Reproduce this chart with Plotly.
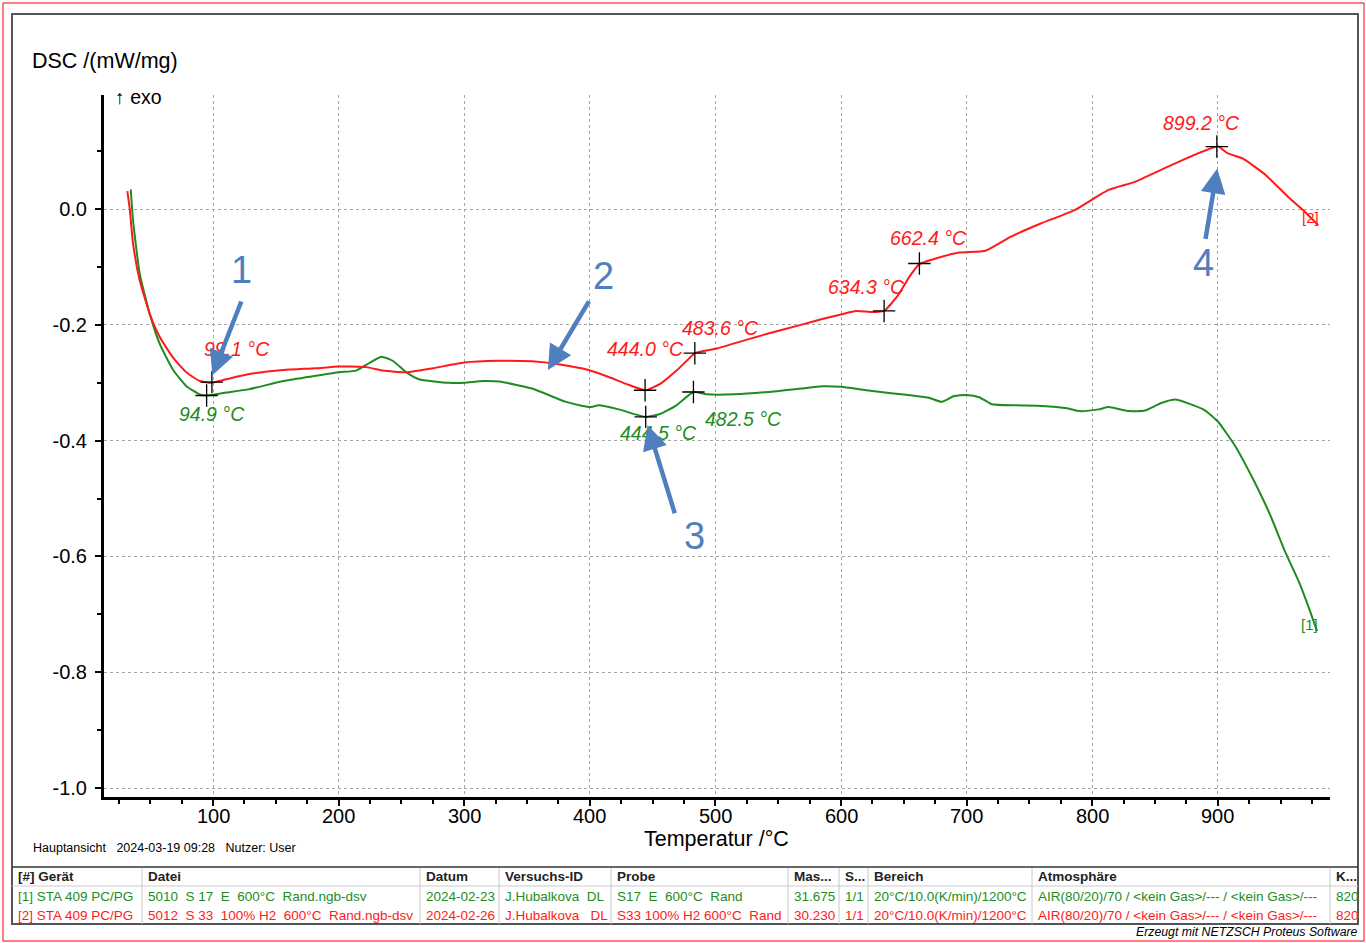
import plotly.graph_objects as go

# ---------------- data ----------------
T_red = [31.8, 33.7, 36.3, 41.6, 49.6, 57.6, 68, 78.8, 89.4, 99.1, 110.6, 129, 156, 182, 200,
         222, 235, 254, 275, 300, 327, 354, 375, 399, 415, 429, 444, 456, 469, 480, 483.6,
         501, 515, 542, 568, 585, 600, 612, 625, 634.3, 645, 655, 662.4, 676, 694, 715,
         735, 759, 786, 813, 834, 863, 900, 908, 920, 938, 956, 968, 980]
dsc_red = [0.031, 0.000, -0.059, -0.123, -0.181, -0.221, -0.256, -0.282, -0.297, -0.300,
           -0.294, -0.285, -0.278, -0.275, -0.272, -0.273, -0.279, -0.282, -0.275, -0.265,
           -0.262, -0.263, -0.268, -0.278, -0.290, -0.302, -0.313, -0.302, -0.279, -0.256,
           -0.249, -0.241, -0.232, -0.215, -0.200, -0.190, -0.182, -0.176, -0.178, -0.176,
           -0.150, -0.115, -0.095, -0.085, -0.075, -0.072, -0.048, -0.025, -0.002, 0.033,
           0.047, 0.076, 0.108, 0.096, 0.087, 0.059, 0.021, -0.002, -0.028]

T_green = [34.5, 36.3, 41.6, 49.6, 57.6, 68, 78.8, 89.4, 94.9, 110.6, 129, 156, 182, 200,
           214, 222, 234, 243, 254, 264, 288, 300, 315, 328, 354, 381, 400, 407, 423, 444.5,
           456, 469, 482.5, 493, 515, 542, 568, 585, 600, 620, 640, 660, 670, 680, 690, 700,
           710, 720, 740, 760, 780, 790, 805, 813, 829, 842, 855, 866, 877, 890, 900, 914,
           927, 941, 954, 965, 973, 979]
dsc_green = [0.034, -0.019, -0.111, -0.181, -0.233, -0.277, -0.306, -0.320, -0.322, -0.317,
             -0.311, -0.297, -0.288, -0.282, -0.279, -0.269, -0.255, -0.262, -0.282, -0.294,
             -0.300, -0.300, -0.297, -0.298, -0.310, -0.333, -0.342, -0.339, -0.346, -0.359,
             -0.354, -0.339, -0.316, -0.320, -0.320, -0.316, -0.310, -0.306, -0.307, -0.313,
             -0.318, -0.323, -0.326, -0.333, -0.323, -0.321, -0.325, -0.337, -0.339, -0.340,
             -0.344, -0.349, -0.346, -0.342, -0.349, -0.348, -0.335, -0.329, -0.336, -0.348,
             -0.367, -0.410, -0.462, -0.525, -0.594, -0.646, -0.692, -0.729]

peak_T_red = [99.1, 444.0, 483.6, 634.3, 662.4, 899.2]
peak_y_red = [-0.299, -0.313, -0.249, -0.176, -0.094, 0.108]
peak_lbl_red = ["99.1 °C", "444.0 °C", "483.6 °C", "634.3 °C", "662.4 °C", "899.2 °C"]
lbl_pos_red = [(119, -0.242), (444, -0.242), (503.7, -0.206), (619.9, -0.135), (670, -0.050), (886.6, 0.149)]

peak_T_green = [94.9, 444.5, 482.5]
peak_y_green = [-0.322, -0.359, -0.316]
peak_lbl_green = ["94.9 °C", "444.5 °C", "482.5 °C"]
lbl_pos_green = [(99.2, -0.354), (454.3, -0.386), (522, -0.363)]

x_ticks = [100, 200, 300, 400, 500, 600, 700, 800, 900]
y_ticks = [0.0, -0.2, -0.4, -0.6, -0.8, -1.0]
y_ticktext = ["0.0", "-0.2", "-0.4", "-0.6", "-0.8", "-1.0"]
y_minor = [0.1, -0.1, -0.3, -0.5, -0.7, -0.9]

# arrows: (number, label pos, tail, head)
arrows = [("1", (122.3, -0.105), (123, -0.157), (99.5, -0.287)),
          ("2", (410.5, -0.116), (400, -0.157), (366.6, -0.278)),
          ("3", (483, -0.565), (468, -0.528), (446, -0.373)),
          ("4", (888.2, -0.093), (890, -0.054), (899.5, 0.070))]

table_cols = ["[#] Gerät", "Datei", "Datum", "Versuchs-ID", "Probe", "Mas...", "S...", "Bereich", "Atmosphäre", "K..."]
row1 = ["[1] STA 409 PC/PG", "5010  S 17  E  600°C  Rand.ngb-dsv", "2024-02-23", "J.Hubalkova  DL",
        "S17  E  600°C  Rand", "31.675", "1/1", "20°C/10.0(K/min)/1200°C",
        "AIR(80/20)/70 / &lt;kein Gas&gt;/--- / &lt;kein Gas&gt;/---", "820"]
row2 = ["[2] STA 409 PC/PG", "5012  S 33  100% H2  600°C  Rand.ngb-dsv", "2024-02-26", "J.Hubalkova   DL",
        "S33 100% H2 600°C  Rand", "30.230", "1/1", "20°C/10.0(K/min)/1200°C",
        "AIR(80/20)/70 / &lt;kein Gas&gt;/--- / &lt;kein Gas&gt;/---", "820"]

# ---------------- layout helpers (pixel -> paper) ----------------
W, H = 1366, 943
L, R, TOP, BOT = 104, 1330, 95, 797
def px(x):
    return (x - L) / (R - L)
def py(y):
    return (BOT - y) / (BOT - TOP)

RED = "#ff1a1a"
GREEN = "#1e8c1e"
BLUE = "#4f7fbf"
FONT = "Liberation Sans, Arial, sans-serif"

fig = go.Figure()
fig.add_trace(go.Scatter(x=T_green, y=dsc_green, mode="lines",
                         line=dict(color=GREEN, width=2, shape="spline", smoothing=0.5)))
fig.add_trace(go.Scatter(x=T_red, y=dsc_red, mode="lines",
                         line=dict(color=RED, width=2, shape="spline", smoothing=0.5)))
fig.add_trace(go.Scatter(x=peak_T_red + peak_T_green, y=peak_y_red + peak_y_green, mode="markers",
                         marker=dict(symbol="cross-thin", size=16, line=dict(color="black", width=1.3))))

ann = []
for (x, y), t in zip(lbl_pos_red, peak_lbl_red):
    ann.append(dict(x=x, y=y, xref="x", yref="y", text=t, showarrow=False,
                    font=dict(family=FONT, size=19.5, color=RED, style="italic")))
for (x, y), t in zip(lbl_pos_green, peak_lbl_green):
    ann.append(dict(x=x, y=y, xref="x", yref="y", text=t, showarrow=False,
                    font=dict(family=FONT, size=19.5, color=GREEN, style="italic")))
ann.append(dict(x=974, y=-0.014, xref="x", yref="y", text="[2]", showarrow=False,
                font=dict(family=FONT, size=15, color=RED)))
ann.append(dict(x=973, y=-0.717, xref="x", yref="y", text="[1]", showarrow=False,
                font=dict(family=FONT, size=15, color=GREEN)))

for num, (lx, ly), (tx, ty), (hx, hy) in arrows:
    ann.append(dict(x=hx, y=hy, ax=tx, ay=ty, xref="x", yref="y", axref="x", ayref="y",
                    text="", showarrow=True, arrowhead=2, arrowsize=1.1, arrowwidth=4.5,
                    arrowcolor=BLUE, standoff=0))
    ann.append(dict(x=lx, y=ly, xref="x", yref="y", text=num, showarrow=False,
                    font=dict(family=FONT, size=38, color=BLUE)))

# x tick labels placed just below the axis (paper y from pixel row)
for v in x_ticks:
    ann.append(dict(x=v, y=py(816), xref="x", yref="paper", text=str(v), showarrow=False,
                    xanchor="center", yanchor="middle", font=dict(family=FONT, size=20, color="black")))

# titles & texts (paper coordinates)
def ptext(x, y, text, size, xanchor="left", color="black", italic=False, bold=False):
    t = text
    if bold:
        t = "<b>" + t + "</b>"
    ann.append(dict(x=px(x), y=py(y), xref="paper", yref="paper", text=t, showarrow=False,
                    xanchor=xanchor, yanchor="middle",
                    font=dict(family=FONT, size=size, color=color,
                              style="italic" if italic else "normal")))

ptext(30, 61, "DSC /(mW/mg)", 21.5)
ptext(113, 97, "↑ exo", 19.5)
ptext(716, 839, "Temperatur /°C", 21.5, xanchor="center")
ptext(31, 848, "Hauptansicht   2024-03-19 09:28   Nutzer: User", 12.5)
ptext(1360, 932, "Erzeugt mit NETZSCH Proteus Software", 12.3, xanchor="right", italic=True)

col_x = [16, 146, 424, 503, 615, 792, 843, 872, 1036, 1334]
sep_x = [142, 420, 499, 611, 788, 839, 868, 1032, 1330]
for cx, h in zip(col_x, table_cols):
    ptext(cx, 877, h, 13.5, bold=True, color="#222222")
for cx, v in zip(col_x, row1):
    ptext(cx, 896, v, 13.5, color=GREEN)
for cx, v in zip(col_x, row2):
    ptext(cx, 915, v, 13.5, color=RED)

shapes = []
# outer red border
shapes.append(dict(type="rect", xref="paper", yref="paper", x0=px(3), x1=px(1364), y0=py(3), y1=py(941),
                   line=dict(color="#ff0000", width=1)))
# gray frame
shapes.append(dict(type="rect", xref="paper", yref="paper", x0=px(12), x1=px(1358), y0=py(14), y1=py(924),
                   line=dict(color="#555555", width=2)))
# table
shapes.append(dict(type="line", xref="paper", yref="paper", x0=px(12), x1=px(1358), y0=py(867), y1=py(867),
                   line=dict(color="#333333", width=1.5)))
shapes.append(dict(type="line", xref="paper", yref="paper", x0=px(12), x1=px(1358), y0=py(886), y1=py(886),
                   line=dict(color="#cccccc", width=1)))
for sx in sep_x:
    shapes.append(dict(type="line", xref="paper", yref="paper", x0=px(sx), x1=px(sx), y0=py(868), y1=py(924),
                       line=dict(color="#c8c8c8", width=1)))

fig.update_layout(
    width=W, height=H,
    margin=dict(l=L, r=W - R, t=TOP, b=H - BOT, pad=0),
    paper_bgcolor="white", plot_bgcolor="white",
    showlegend=False,
    font=dict(family=FONT, size=20, color="black"),
    annotations=ann, shapes=shapes,
    xaxis=dict(range=[13.2, 989.3], tickmode="array", tickvals=x_ticks, showticklabels=False,
               showline=True, linecolor="black", linewidth=3, mirror=False,
               ticks="outside", ticklen=6, tickwidth=2, tickcolor="black",
               showgrid=True, gridcolor="#a6a6a6", gridwidth=1, griddash="dot",
               zeroline=False,
               minor=dict(tickmode="linear", tick0=0, dtick=25, ticks="outside",
                          ticklen=4, tickwidth=2, tickcolor="black", showgrid=False)),
    yaxis=dict(range=[-1.0155, 0.197], tickmode="array", tickvals=y_ticks, ticktext=y_ticktext,
               showline=True, linecolor="black", linewidth=3,
               ticks="outside", ticklen=6, tickwidth=2, tickcolor="black",
               showgrid=True, gridcolor="#a6a6a6", gridwidth=1, griddash="dot",
               zeroline=False, tickfont=dict(size=20), ticklabelstandoff=4,
               minor=dict(tickmode="array", tickvals=y_minor, ticks="outside",
                          ticklen=4, tickwidth=2, tickcolor="black", showgrid=False)),
)

fig.write_html("out.html", config={"displayModeBar": False},
               post_script="document.body.style.margin='0';")
